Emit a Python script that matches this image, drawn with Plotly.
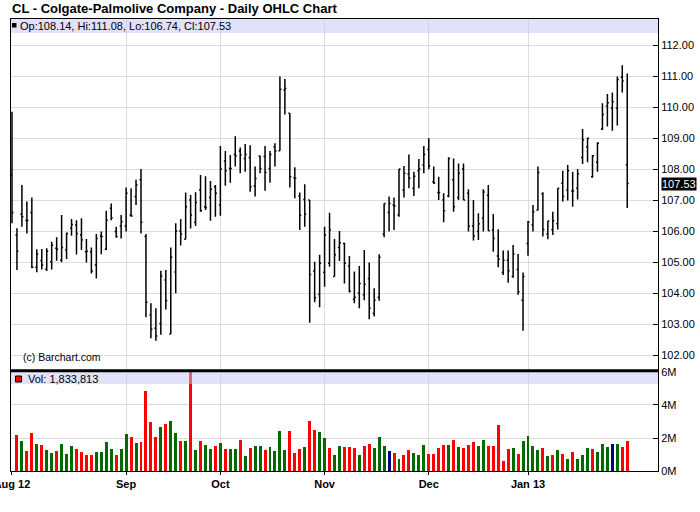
import pandas as pd
import plotly.graph_objects as go

# ---------------- data ----------------
holidays = ['2012-09-03', '2012-10-29', '2012-10-30', '2012-11-22',
            '2012-12-25', '2013-01-01', '2013-01-21']
dates = [d.strftime('%Y-%m-%d') for d in pd.bdate_range('2012-08-01', '2013-01-31')
         if d.strftime('%Y-%m-%d') not in holidays]

opens = [107.81, 105.87, 106.54, 106.34, 106.60, 104.83, 105.05, 104.77, 105.01, 105.44,
         105.06, 105.39, 106.09, 106.19, 105.87, 105.33, 105.33, 104.90, 105.84, 105.41,
         106.73, 105.98, 106.16, 106.16, 106.52, 107.11, 107.65, 105.82, 103.29, 102.86,
         103.02, 104.42, 102.68, 104.68, 106.00, 105.73, 107.00, 106.28, 107.32, 106.78,
         107.08, 107.43, 106.84, 108.26, 108.02, 108.47, 108.58, 108.34, 108.37, 107.45,
         108.42, 108.40, 108.02, 108.72, 108.59, 110.55, 109.80, 107.72, 107.13, 107.02,
         107.00, 104.71, 103.96, 104.67, 104.96, 104.53, 105.47, 105.60, 104.87, 103.80,
         103.99, 103.94, 104.47, 103.34, 103.86, 105.90, 106.60, 106.84, 106.52, 107.32,
         107.84, 107.38, 107.94, 108.13, 108.63, 107.59, 107.24, 107.00, 107.13, 107.65,
         107.08, 108.00, 107.22, 106.16, 105.98, 106.41, 107.15, 106.03, 105.19, 104.66,
         105.06, 104.53, 104.76, 103.77, 105.60, 106.19, 106.68, 107.20, 105.90, 106.05,
         106.23, 107.54, 107.32, 107.29, 107.38, 108.37, 108.72, 107.75, 108.22, 109.29,
         110.03, 109.96, 109.96, 110.96, 108.14]
highs = [109.85, 106.09, 107.48, 106.95, 107.08, 105.41, 105.42, 105.44, 105.65, 105.80,
         106.52, 105.95, 106.39, 106.35, 106.41, 105.74, 105.47, 105.90, 105.98, 106.65,
         106.89, 106.14, 106.52, 107.40, 107.38, 107.65, 108.00, 105.90, 103.67, 103.51,
         104.72, 104.74, 105.47, 106.25, 106.39, 107.24, 107.16, 107.25, 107.81, 107.77,
         107.61, 107.48, 108.74, 108.58, 108.45, 109.06, 108.69, 108.81, 108.77, 108.08,
         108.43, 108.74, 108.58, 108.83, 110.98, 110.90, 109.80, 108.06, 107.24, 107.51,
         107.00, 105.01, 105.23, 106.14, 106.59, 105.74, 106.00, 105.62, 105.19, 104.69,
         104.87, 105.39, 104.98, 104.15, 105.25, 106.89, 107.11, 107.08, 108.00, 108.10,
         108.47, 107.91, 108.32, 108.74, 108.99, 108.08, 107.75, 107.22, 108.38, 108.34,
         108.18, 108.18, 107.35, 107.00, 106.57, 107.35, 107.48, 106.55, 106.06, 105.37,
         105.37, 105.55, 105.26, 104.66, 106.32, 106.84, 108.08, 107.25, 106.32, 106.62,
         107.38, 107.94, 108.13, 107.91, 108.00, 109.29, 109.01, 108.45, 108.86, 110.12,
         110.42, 110.47, 110.98, 111.35, 111.08]
lows = [106.25, 104.74, 106.14, 105.92, 104.80, 104.67, 104.76, 104.71, 104.76, 105.04,
        104.99, 105.10, 105.85, 105.24, 105.39, 104.98, 104.63, 104.47, 105.25, 105.39,
        106.35, 105.78, 105.76, 105.98, 106.46, 106.84, 105.92, 103.22, 102.54, 102.46,
        102.65, 103.47, 102.68, 103.99, 105.53, 105.73, 106.08, 106.16, 106.62, 106.68,
        106.33, 106.46, 106.49, 107.46, 107.56, 108.08, 107.86, 107.91, 107.27, 107.11,
        107.86, 107.30, 107.56, 108.08, 108.59, 109.76, 107.40, 107.06, 106.03, 106.14,
        103.04, 103.70, 103.54, 104.20, 104.85, 104.53, 105.03, 104.31, 104.02, 103.67,
        103.51, 103.77, 103.15, 103.24, 103.75, 105.80, 105.98, 106.03, 106.46, 107.08,
        107.38, 107.13, 107.38, 107.86, 107.99, 107.52, 107.00, 106.28, 107.09, 106.62,
        107.00, 107.00, 105.98, 105.69, 105.71, 105.98, 106.01, 105.33, 104.83, 104.58,
        104.33, 104.49, 103.94, 102.78, 105.20, 105.98, 106.66, 105.82, 105.73, 105.87,
        106.05, 106.95, 106.98, 106.78, 107.02, 108.16, 108.22, 107.72, 107.91, 109.26,
        109.37, 109.23, 109.40, 110.47, 106.74]
closes = [106.60, 105.35, 106.46, 106.34, 104.83, 105.25, 104.90, 105.35, 105.54, 105.41,
          105.47, 105.92, 106.21, 105.92, 105.71, 105.35, 104.71, 105.76, 105.82, 106.35,
          106.43, 105.82, 106.30, 107.22, 106.48, 107.48, 106.28, 103.70, 102.83, 102.61,
          104.55, 103.75, 105.15, 106.00, 105.90, 106.78, 106.52, 106.92, 106.65, 106.75,
          107.35, 107.22, 108.00, 107.94, 108.02, 108.43, 108.45, 108.47, 107.43, 107.69,
          108.02, 107.89, 108.47, 108.58, 110.57, 110.60, 107.75, 107.70, 106.51, 106.54,
          104.60, 103.85, 104.96, 105.87, 106.03, 105.23, 105.62, 104.96, 104.06, 103.86,
          104.31, 104.28, 103.51, 103.77, 105.15, 106.89, 106.89, 106.81, 108.00, 107.86,
          107.70, 107.77, 108.00, 108.47, 108.10, 107.56, 107.24, 106.65, 108.34, 106.78,
          107.86, 107.00, 106.16, 105.84, 106.23, 107.26, 106.01, 105.76, 105.09, 105.06,
          104.72, 105.26, 104.04, 104.53, 106.30, 106.62, 107.89, 106.05, 106.32, 106.33,
          107.38, 107.11, 107.94, 107.29, 107.84, 108.94, 108.99, 108.43, 108.83, 109.76,
          110.14, 110.17, 110.89, 110.84, 107.53]

# volume in millions of shares (first day not shown on the original)
volumes_m = [None, 2.17, 1.81, 1.21, 2.29, 1.63, 1.57, 1.27, 1.09, 1.21,
             1.63, 1.03, 1.51, 1.33, 1.15, 0.97, 0.97, 1.15, 1.15, 1.75,
             1.33, 0.97, 1.33, 2.23, 2.05, 1.69, 1.75, 4.83, 2.96, 2.05,
             2.66, 2.84, 3.02, 2.29, 1.81, 1.81, 6.90, 1.27, 1.81, 1.57,
             1.33, 1.51, 1.69, 1.33, 1.33, 1.33, 1.87, 0.91, 1.39, 1.51,
             1.51, 1.27, 1.45, 1.21, 2.41, 1.27, 2.41, 1.09, 1.33, 1.45,
             3.02, 2.47, 2.35, 1.99, 1.39, 0.97, 1.51, 1.45, 1.45, 1.39,
             0.97, 1.51, 1.63, 1.39, 2.05, 1.51, 1.21, 1.09, 0.72, 0.97,
             1.27, 1.09, 0.97, 1.57, 1.03, 1.03, 1.39, 1.57, 1.57, 1.87,
             1.45, 1.39, 1.57, 1.75, 1.51, 1.87, 1.51, 1.51, 2.78, 0.60,
             1.33, 1.39, 1.03, 1.81, 2.11, 1.51, 1.27, 1.39, 0.91, 0.97,
             1.27, 1.03, 0.72, 1.15, 0.72, 0.97, 1.39, 1.33, 1.15, 1.63,
             1.45, 1.63, 1.63, 1.45, 1.833813]
# u = up, d = down, n = unchanged
vol_dir = list("ddudduduud" "uuudddduuu" "uduududddd" "uduudududu" "ududuududu"
               "uduuuudddu" "dduuduuddd" "udduuundud" "duuuddddud" "uddduudddd"
               "duduuuudud" "ududuuuduu" "unudd")

month_labels = ['Aug 12', 'Sep', 'Oct', 'Nov', 'Dec', 'Jan 13']
price_ticks = [102, 103, 104, 105, 106, 107, 108, 109, 110, 111, 112]
vol_ticks = [0, 2, 4, 6]

# ---------------- layout helpers ----------------
W, H = 700, 512
L, R, T, B = 11, 658, 19, 471
pw, ph = R - L, B - T


def px(x):
    return (x - L) / pw


def py(y):
    return (B - y) / ph


split = py(371)
FONT = 'Liberation Sans, Arial, sans-serif'
GRID = '#dcdcdc'

month_starts = [d for i, d in enumerate(dates) if i == 0 or d[:7] != dates[i - 1][:7]]
color_map = {'u': '#006a00', 'd': '#ff0000', 'n': '#000080'}

fig = go.Figure()
fig.add_trace(go.Ohlc(
    x=dates, open=opens, high=highs, low=lows, close=closes,
    xaxis='x2', yaxis='y',
    increasing=dict(line=dict(color='black', width=1.5)),
    decreasing=dict(line=dict(color='black', width=1.5)),
    tickwidth=0.3, hoverinfo='skip', showlegend=False))
fig.add_trace(go.Bar(
    x=dates, y=volumes_m, xaxis='x', yaxis='y2', width=0.6,
    marker=dict(color=[color_map[c] for c in vol_dir], line=dict(width=0)),
    hoverinfo='skip', showlegend=False))

xr = [-0.2, 130.2]
fig.update_layout(
    width=W, height=H,
    margin=dict(l=L, r=W - R, t=T, b=H - B, pad=0, autoexpand=False),
    paper_bgcolor='white', plot_bgcolor='white',
    font=dict(family=FONT, size=11, color='black'),
    showlegend=False, hovermode=False, bargap=0,
    xaxis=dict(type='category', range=xr, domain=[0, 1], anchor='y2', automargin=False,
               tickvals=month_starts, ticktext=month_labels,
               ticks='outside', ticklen=3, tickcolor='black', tickwidth=1,
               showline=True, linecolor='black', linewidth=1,
               showgrid=True, gridcolor=GRID, gridwidth=1, zeroline=False,
               tickfont=dict(family=FONT, size=11, color='black', weight='bold'),
               rangeslider=dict(visible=False)),
    xaxis2=dict(type='category', matches='x', range=xr, domain=[0, 1], anchor='y',
                automargin=False,
                side='top', tickvals=month_starts, showticklabels=False, ticks='',
                showline=True, linecolor='black', linewidth=1,
                showgrid=True, gridcolor=GRID, gridwidth=1, zeroline=False,
                rangeslider=dict(visible=False)),
    yaxis=dict(domain=[split, 1], anchor='x2', side='right', automargin=False,
               range=[112 - (371 - 45) / 31, 112 + (45 - 19) / 31],
               tickvals=price_ticks, ticktext=[f'{v:.2f}' for v in price_ticks],
               ticks='inside', ticklen=5, tickcolor='black', tickwidth=1,
               showline=True, linecolor='black', linewidth=1, mirror=True,
               showgrid=True, gridcolor=GRID, gridwidth=1, zeroline=False,
               tickfont=dict(family=FONT, size=11, color='black')),
    yaxis2=dict(domain=[0, split], anchor='x', side='right', automargin=False,
                range=[0, 6.06],
                tickvals=vol_ticks, ticktext=[f'{v}M' for v in vol_ticks],
                ticks='inside', ticklen=5, tickcolor='black', tickwidth=1,
                showline=True, linecolor='black', linewidth=1, mirror=True,
                showgrid=True, gridcolor=GRID, gridwidth=1, zeroline=False,
                tickfont=dict(family=FONT, size=11, color='black')),
)

band = 'rgba(196,196,246,0.5)'
shapes = [
    dict(type='rect', xref='paper', yref='paper', x0=0, x1=1, y0=py(33), y1=1,
         fillcolor=band, line=dict(width=0), layer='above'),
    dict(type='rect', xref='paper', yref='paper', x0=0, x1=1, y0=py(384), y1=py(372),
         fillcolor=band, line=dict(width=0), layer='above'),
    dict(type='line', xref='paper', yref='paper', x0=0, x1=1, y0=py(370.8), y1=py(370.8),
         line=dict(color='black', width=3), layer='above'),
    dict(type='rect', xref='paper', yref='paper', x0=px(12), x1=px(16.5),
         y0=py(27.5), y1=py(23), fillcolor='black', line=dict(width=0), layer='above'),
    dict(type='rect', xref='paper', yref='paper', x0=px(15.5), x1=px(21.5),
         y0=py(382), y1=py(376), fillcolor='#ff0000',
         line=dict(color='black', width=1), layer='above'),
]
fig.update_layout(shapes=shapes)

last_vol = int(round(volumes_m[-1] * 1e6))
annotations = [
    dict(text='CL - Colgate-Palmolive Company - Daily OHLC Chart', xref='paper', yref='paper',
         x=px(10), y=py(8), xanchor='left', yanchor='middle', showarrow=False,
         font=dict(family=FONT, size=13, color='black', weight='bold')),
    dict(text=f'Op:{opens[-1]:.2f}, Hi:{highs[-1]:.2f}, Lo:{lows[-1]:.2f}, Cl:{closes[-1]:.2f}',
         xref='paper', yref='paper', x=px(18), y=py(26), xanchor='left', yanchor='middle',
         showarrow=False, font=dict(family=FONT, size=11, color='black')),
    dict(text=f'Vol: {last_vol:,}', xref='paper', yref='paper', x=px(26), y=py(379),
         xanchor='left', yanchor='middle', showarrow=False,
         font=dict(family=FONT, size=11, color='black')),
    dict(text='(c) Barchart.com', xref='paper', yref='paper', x=px(21), y=py(357),
         xanchor='left', yanchor='middle', showarrow=False,
         font=dict(family=FONT, size=10.5, color='black')),
    dict(text=f'{closes[-1]:.2f}', xref='paper', yref='y', x=1, y=closes[-1],
         xanchor='left', yanchor='middle', xshift=3, showarrow=False,
         bgcolor='black', borderpad=0,
         font=dict(family=FONT, size=11, color='white')),
]
fig.update_layout(annotations=annotations)

fig.write_html('out.html', config={'displayModeBar': False},
               post_script="document.body.style.margin='0';")
